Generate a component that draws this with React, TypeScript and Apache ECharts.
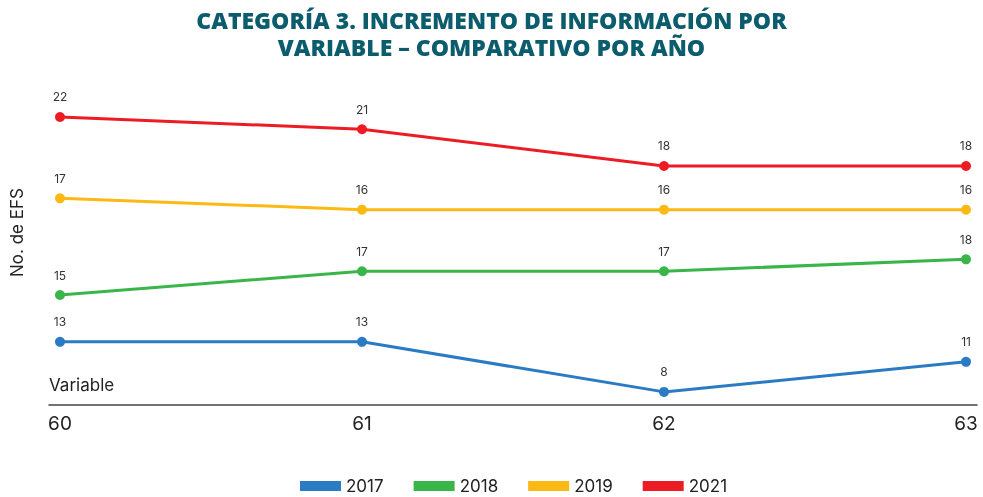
import React, { useEffect, useRef } from "react";
import * as echarts from "echarts";

const variables = [60, 61, 62, 63];
const years = ["2017", "2018", "2019", "2021"];
const values2017 = [13, 13, 8, 11];
const values2018 = [15, 17, 17, 18];
const values2019 = [17, 16, 16, 16];
const values2021 = [22, 21, 18, 18];
const colors = ["#2a7bc4", "#3ab54a", "#fdb913", "#ed1c24"];
const titleLines = [
  "CATEGORÍA 3. INCREMENTO DE INFORMACIÓN POR",
  "VARIABLE – COMPARATIVO POR AÑO",
];
// each series is drawn on its own hidden value axis (as in the original)
const axisRanges = [
  [6.69, 41.16],
  [5.76, 34.75],
  [-1.13, 29.13],
  [-1.51, 26.65],
];

const FONT = "Inter, Roboto, sans-serif";

export default function App() {
  const ref = useRef<HTMLDivElement>(null);
  useEffect(() => {
    if (!ref.current) return;
    const chart = echarts.init(ref.current, undefined, { renderer: "svg" });
    const allValues = [values2017, values2018, values2019, values2021];
    chart.setOption({
      animation: false,
      textStyle: { fontFamily: FONT },
      title: titleLines.map((t, i) => ({
        text: t,
        left: "center",
        top: 8 + i * 27,
        padding: 0,
        textStyle: {
          fontFamily: "'Open Sans', sans-serif",
          fontWeight: 800,
          fontSize: 23,
          lineHeight: 23,
          color: "#0b5c6c",
        },
      })),
      legend: {
        top: 476,
        left: 300,
        padding: 0,
        itemWidth: 41,
        itemHeight: 10,
        itemGap: 30,
        icon: "rect",
        data: years,
        textStyle: { fontFamily: FONT, fontSize: 17, lineHeight: 20, color: "#222" },
      },
      grid: { left: 49, right: 6, top: 60, bottom: 92 },
      xAxis: {
        type: "value",
        min: 59.9636,
        max: 63.0364,
        axisLine: { show: true, onZero: false, lineStyle: { color: "#444", width: 1.5 } },
        axisTick: { show: false },
        splitLine: { show: false },
        axisLabel: {
          customValues: variables,
          fontSize: 19,
          color: "#222",
          margin: 9,
          fontFamily: FONT,
        },
      },
      yAxis: axisRanges.map((r, i) => ({
        type: "value",
        min: r[0],
        max: r[1],
        position: "left",
        name: i === 0 ? "No. de EFS" : "",
        nameLocation: "middle",
        nameGap: 24,
        nameTextStyle: { fontSize: 17, color: "#222", fontFamily: FONT },
        axisLine: { show: false, onZero: false },
        axisTick: { show: false },
        axisLabel: { show: false },
        splitLine: { show: false },
      })),
      graphic: [
        {
          type: "text",
          left: 49,
          top: 376,
          style: { text: "Variable", fontSize: 17, fill: "#222", fontFamily: FONT },
        },
      ],
      series: years.map((y, i) => ({
        name: y,
        type: "line",
        yAxisIndex: i,
        data: variables.map((v, j) => [v, allValues[i][j]]),
        symbol: "circle",
        symbolSize: 10,
        color: colors[i],
        lineStyle: { width: 3, color: colors[i] },
        itemStyle: { color: colors[i] },
        label: {
          show: true,
          position: "top",
          distance: 9,
          fontSize: 12,
          color: "#333",
          fontFamily: FONT,
          formatter: (p: any) => String(p.value[1]),
        },
      })),
    });
    return () => chart.dispose();
  }, []);
  return (
    <div
      ref={ref}
      style={{ position: "fixed", left: 0, top: 0, width: 983, height: 497 }}
    />
  );
}
